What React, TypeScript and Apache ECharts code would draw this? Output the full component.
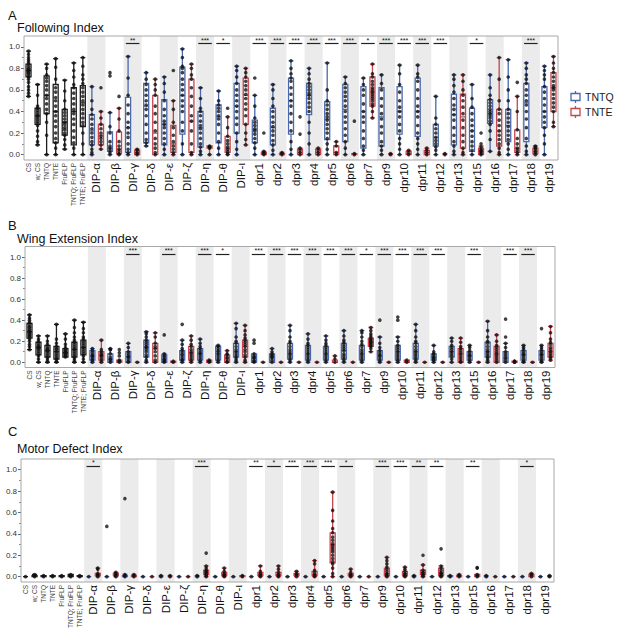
import React, { useEffect, useRef } from 'react';
import * as echarts from 'echarts';

const controls = ['CS', 'w; CS', 'TNTQ', 'TNTE', 'FruFLP', 'TNTQ; FruFLP', 'TNTE; FruFLP'];
const genes = ['DIP-α', 'DIP-β', 'DIP-γ', 'DIP-δ', 'DIP-ε', 'DIP-ζ', 'DIP-η', 'DIP-θ', 'DIP-ι', 'dpr1', 'dpr2', 'dpr3', 'dpr4', 'dpr5', 'dpr6', 'dpr7', 'dpr9', 'dpr10', 'dpr11', 'dpr12', 'dpr13', 'dpr15', 'dpr16', 'dpr17', 'dpr18', 'dpr19'];
const yTicks = [0, 0.2, 0.4, 0.6, 0.8, 1.0];
const yMinorTicks = [0.1, 0.3, 0.5, 0.7, 0.9];
const panelLetters = ['A', 'B', 'C'];
const panelTitles = ['Following Index', 'Wing Extension Index', 'Motor Defect Index'];
const legendNames = ['TNTQ', 'TNTE'];

const sigFollow = ['', '', '**', '', '', '', '***', '*', '', '***', '***', '***', '***', '***', '***', '*', '***', '***', '***', '***', '', '*', '', '', '***', ''];
const sigWing = ['', '', '***', '', '***', '', '***', '*', '', '***', '***', '***', '***', '***', '***', '*', '***', '***', '***', '***', '', '***', '', '***', '***', ''];
const sigMotor = ['*', '', '', '', '', '', '***', '', '', '**', '*', '***', '***', '***', '*', '', '***', '***', '**', '**', '', '**', '', '', '*', ''];

// [min, Q1, median, Q3, max] per slot: 7 controls, then TNTQ/TNTE per gene
const followBoxes = [
  [0.54, 0.72, 0.78, 0.84, 0.96], [0.09, 0.28, 0.36, 0.43, 0.65], [0.0, 0.38, 0.55, 0.73, 0.84], [0.0, 0.11, 0.40, 0.65, 0.89],
  [0.05, 0.18, 0.30, 0.42, 0.69], [0.0, 0.09, 0.40, 0.62, 0.85], [0.0, 0.26, 0.48, 0.64, 0.90],
  [0.0, 0.09, 0.22, 0.37, 0.63], [0.05, 0.09, 0.18, 0.28, 0.40],
  [0.0, 0.03, 0.06, 0.21, 0.39], [0.0, 0.01, 0.05, 0.21, 0.43],
  [0.0, 0.02, 0.25, 0.53, 0.91], [0.0, 0.0, 0.02, 0.04, 0.05],
  [0.08, 0.11, 0.45, 0.66, 0.76], [0.0, 0.0, 0.20, 0.55, 0.70],
  [0.0, 0.09, 0.28, 0.51, 0.72], [0.0, 0.02, 0.10, 0.27, 0.50],
  [0.0, 0.19, 0.55, 0.81, 0.98], [0.0, 0.02, 0.31, 0.70, 0.84],
  [0.0, 0.07, 0.25, 0.40, 0.62], [0.0, 0.06, 0.07, 0.08, 0.08],
  [0.0, 0.11, 0.35, 0.46, 0.59], [0.0, 0.02, 0.06, 0.17, 0.35],
  [0.0, 0.20, 0.45, 0.66, 0.82], [0.09, 0.28, 0.55, 0.71, 0.80],
  [0.0, 0.11, 0.23, 0.32, 0.55], [0.0, 0.0, 0.01, 0.02, 0.03],
  [0.0, 0.09, 0.25, 0.43, 0.65], [0.0, 0.0, 0.01, 0.01, 0.02],
  [0.0, 0.19, 0.50, 0.71, 0.87], [0.0, 0.0, 0.02, 0.05, 0.06],
  [0.0, 0.37, 0.55, 0.66, 0.80], [0.0, 0.0, 0.02, 0.05, 0.06],
  [0.0, 0.14, 0.33, 0.49, 0.85], [0.0, 0.0, 0.02, 0.08, 0.12],
  [0.0, 0.12, 0.42, 0.65, 0.72], [0.0, 0.0, 0.0, 0.01, 0.01],
  [0.0, 0.06, 0.40, 0.63, 0.71], [0.34, 0.45, 0.58, 0.72, 0.84],
  [0.0, 0.08, 0.35, 0.62, 0.74], [0.0, 0.0, 0.0, 0.0, 0.01],
  [0.0, 0.19, 0.40, 0.63, 0.83], [0.0, 0.0, 0.01, 0.03, 0.04],
  [0.0, 0.17, 0.40, 0.71, 0.83], [0.0, 0.0, 0.02, 0.04, 0.06],
  [0.0, 0.08, 0.16, 0.28, 0.54], [0.0, 0.0, 0.0, 0.0, 0.01],
  [0.0, 0.09, 0.37, 0.56, 0.74], [0.0, 0.06, 0.35, 0.56, 0.74],
  [0.0, 0.03, 0.22, 0.43, 0.65], [0.0, 0.0, 0.03, 0.06, 0.08],
  [0.03, 0.29, 0.38, 0.51, 0.74], [0.0, 0.08, 0.22, 0.42, 0.90],
  [0.0, 0.12, 0.27, 0.42, 0.88], [0.0, 0.02, 0.06, 0.23, 0.54],
  [0.0, 0.12, 0.48, 0.66, 0.85], [0.0, 0.01, 0.03, 0.06, 0.08],
  [0.0, 0.25, 0.40, 0.63, 0.82], [0.26, 0.40, 0.62, 0.76, 0.91],
];

const followPoints = [
  [0.96, 0.93, 0.9, 0.88, 0.86, 0.84, 0.82, 0.8, 0.79, 0.78, 0.77, 0.76, 0.75, 0.73, 0.72, 0.7, 0.67, 0.63, 0.6, 0.57, 0.54],
  [0.65, 0.55, 0.45, 0.43, 0.41, 0.39, 0.37, 0.36, 0.35, 0.33, 0.31, 0.29, 0.27, 0.22, 0.17, 0.12, 0.09],
  [0.84, 0.8, 0.74, 0.71, 0.68, 0.64, 0.6, 0.55, 0.52, 0.47, 0.42, 0.38, 0.3, 0.18, 0.0],
  [0.89, 0.81, 0.7, 0.62, 0.58, 0.53, 0.5, 0.45, 0.4, 0.36, 0.31, 0.26, 0.2, 0.15, 0.11, 0.06, 0.0],
  [0.69, 0.59, 0.5, 0.42, 0.39, 0.36, 0.33, 0.3, 0.28, 0.25, 0.23, 0.2, 0.18, 0.14, 0.09, 0.05],
  [0.85, 0.78, 0.72, 0.65, 0.62, 0.57, 0.52, 0.47, 0.42, 0.38, 0.33, 0.28, 0.22, 0.16, 0.11, 0.06, 0.0],
  [0.9, 0.82, 0.74, 0.7, 0.66, 0.62, 0.58, 0.54, 0.5, 0.46, 0.42, 0.38, 0.34, 0.3, 0.27, 0.2, 0.1, 0.0],
  [0.63, 0.5, 0.42, 0.37, 0.33, 0.28, 0.24, 0.2, 0.16, 0.12, 0.09, 0.05, 0.02, 0.0],
  [0.62, 0.4, 0.34, 0.28, 0.24, 0.2, 0.17, 0.15, 0.12, 0.09, 0.05],
  [0.76, 0.73, 0.39, 0.26, 0.2, 0.12, 0.08, 0.06, 0.04, 0.02, 0.0],
  [0.54, 0.43, 0.33, 0.22, 0.12, 0.08, 0.05, 0.03, 0.01, 0.0],
  [0.91, 0.71, 0.55, 0.46, 0.38, 0.3, 0.25, 0.2, 0.16, 0.1, 0.05, 0.02, 0.0],
  [0.05, 0.04, 0.02, 0.01, 0.0],
  [0.76, 0.7, 0.65, 0.6, 0.55, 0.5, 0.46, 0.42, 0.36, 0.28, 0.2, 0.14, 0.11, 0.08],
  [0.7, 0.65, 0.6, 0.55, 0.45, 0.38, 0.3, 0.22, 0.15, 0.1, 0.06, 0.02, 0.0],
  [0.72, 0.66, 0.58, 0.5, 0.42, 0.36, 0.31, 0.28, 0.25, 0.2, 0.15, 0.1, 0.05, 0.0],
  [0.78, 0.5, 0.42, 0.3, 0.25, 0.18, 0.12, 0.08, 0.05, 0.02, 0.0],
  [0.98, 0.9, 0.82, 0.8, 0.76, 0.7, 0.65, 0.6, 0.55, 0.5, 0.45, 0.4, 0.3, 0.22, 0.1, 0.0],
  [0.84, 0.8, 0.74, 0.7, 0.62, 0.54, 0.45, 0.36, 0.31, 0.22, 0.1, 0.02, 0.0],
  [0.62, 0.52, 0.43, 0.4, 0.36, 0.31, 0.27, 0.24, 0.2, 0.15, 0.1, 0.07, 0.03, 0.0],
  [0.08, 0.07, 0.07, 0.06, 0.0],
  [0.59, 0.5, 0.46, 0.43, 0.4, 0.36, 0.33, 0.28, 0.2, 0.12, 0.06, 0.0],
  [0.43, 0.35, 0.25, 0.17, 0.13, 0.1, 0.07, 0.05, 0.03, 0.01, 0.0],
  [0.82, 0.78, 0.72, 0.66, 0.6, 0.55, 0.5, 0.45, 0.4, 0.34, 0.28, 0.2, 0.12, 0.05, 0.0],
  [0.8, 0.76, 0.72, 0.68, 0.64, 0.6, 0.56, 0.52, 0.47, 0.42, 0.36, 0.28, 0.2, 0.14, 0.09],
  [0.71, 0.55, 0.45, 0.34, 0.3, 0.27, 0.24, 0.22, 0.19, 0.15, 0.11, 0.06, 0.0],
  [0.2, 0.03, 0.02, 0.01, 0.0],
  [0.65, 0.6, 0.52, 0.45, 0.4, 0.35, 0.3, 0.26, 0.22, 0.18, 0.13, 0.09, 0.04, 0.0],
  [0.02, 0.01, 0.0],
  [0.87, 0.8, 0.75, 0.71, 0.68, 0.62, 0.56, 0.5, 0.45, 0.38, 0.3, 0.22, 0.12, 0.05, 0.0],
  [0.35, 0.19, 0.06, 0.04, 0.02, 0.0],
  [0.8, 0.75, 0.7, 0.66, 0.63, 0.6, 0.57, 0.55, 0.52, 0.48, 0.44, 0.4, 0.3, 0.2, 0.1, 0.0],
  [0.06, 0.04, 0.02, 0.0],
  [0.85, 0.6, 0.5, 0.46, 0.42, 0.38, 0.35, 0.32, 0.28, 0.24, 0.2, 0.15, 0.1, 0.05, 0.0],
  [0.12, 0.08, 0.02, 0.0],
  [0.72, 0.66, 0.62, 0.58, 0.54, 0.5, 0.45, 0.4, 0.35, 0.3, 0.24, 0.18, 0.12, 0.06, 0.0],
  [0.31, 0.01, 0.0],
  [0.71, 0.65, 0.6, 0.55, 0.47, 0.4, 0.35, 0.3, 0.22, 0.15, 0.08, 0.04, 0.0],
  [0.84, 0.75, 0.72, 0.68, 0.65, 0.62, 0.6, 0.58, 0.56, 0.54, 0.52, 0.5, 0.47, 0.45, 0.4, 0.34],
  [0.74, 0.66, 0.6, 0.52, 0.45, 0.38, 0.33, 0.26, 0.2, 0.12, 0.08, 0.04, 0.0],
  [0.01, 0.0],
  [0.83, 0.75, 0.65, 0.58, 0.5, 0.44, 0.4, 0.35, 0.28, 0.22, 0.15, 0.1, 0.05, 0.0],
  [0.04, 0.02, 0.0],
  [0.83, 0.75, 0.72, 0.68, 0.6, 0.52, 0.45, 0.4, 0.35, 0.27, 0.2, 0.15, 0.1, 0.05, 0.0],
  [0.06, 0.04, 0.02, 0.0],
  [0.54, 0.34, 0.28, 0.24, 0.2, 0.16, 0.13, 0.1, 0.07, 0.04, 0.0],
  [0.01, 0.0],
  [0.74, 0.7, 0.64, 0.58, 0.52, 0.46, 0.42, 0.37, 0.32, 0.25, 0.18, 0.12, 0.08, 0.03, 0.0],
  [0.74, 0.68, 0.6, 0.55, 0.5, 0.44, 0.38, 0.32, 0.25, 0.18, 0.12, 0.06, 0.02, 0.0],
  [0.65, 0.52, 0.44, 0.38, 0.32, 0.27, 0.22, 0.17, 0.12, 0.08, 0.04, 0.0],
  [0.2, 0.1, 0.07, 0.05, 0.04, 0.03, 0.02, 0.01, 0.0],
  [0.74, 0.62, 0.55, 0.51, 0.48, 0.45, 0.42, 0.4, 0.38, 0.36, 0.34, 0.31, 0.28, 0.22, 0.14, 0.03],
  [0.9, 0.7, 0.5, 0.42, 0.38, 0.32, 0.27, 0.22, 0.18, 0.14, 0.1, 0.06, 0.02, 0.0],
  [0.88, 0.72, 0.6, 0.5, 0.42, 0.38, 0.34, 0.3, 0.26, 0.22, 0.18, 0.14, 0.1, 0.05, 0.0],
  [0.67, 0.54, 0.4, 0.23, 0.15, 0.1, 0.06, 0.04, 0.02, 0.0],
  [0.85, 0.8, 0.74, 0.7, 0.66, 0.6, 0.55, 0.5, 0.46, 0.4, 0.33, 0.25, 0.15, 0.08, 0.03, 0.0],
  [0.08, 0.07, 0.06, 0.05, 0.03, 0.02, 0.0],
  [0.82, 0.78, 0.74, 0.7, 0.63, 0.58, 0.52, 0.46, 0.4, 0.35, 0.3, 0.25, 0.18, 0.1, 0.0],
  [0.91, 0.85, 0.8, 0.76, 0.72, 0.68, 0.64, 0.62, 0.6, 0.56, 0.52, 0.48, 0.44, 0.4, 0.3, 0.26],
];

const wingBoxes = [
  [0.12, 0.23, 0.29, 0.37, 0.45], [0.0, 0.07, 0.14, 0.19, 0.25], [0.0, 0.05, 0.11, 0.16, 0.25], [0.0, 0.03, 0.10, 0.15, 0.36],
  [0.05, 0.05, 0.09, 0.13, 0.27], [0.0, 0.05, 0.12, 0.19, 0.40], [0.0, 0.07, 0.14, 0.21, 0.38],
  [0.0, 0.02, 0.06, 0.11, 0.13], [0.0, 0.02, 0.06, 0.10, 0.21],
  [0.0, 0.0, 0.03, 0.08, 0.13], [0.0, 0.0, 0.01, 0.02, 0.02],
  [0.0, 0.0, 0.05, 0.10, 0.18], [0.0, 0.0, 0.0, 0.0, 0.0],
  [0.0, 0.05, 0.14, 0.21, 0.29], [0.0, 0.0, 0.13, 0.18, 0.28],
  [0.0, 0.0, 0.03, 0.07, 0.08], [0.0, 0.0, 0.0, 0.01, 0.01],
  [0.0, 0.02, 0.07, 0.11, 0.21], [0.0, 0.02, 0.09, 0.15, 0.25],
  [0.0, 0.02, 0.08, 0.13, 0.22], [0.0, 0.0, 0.01, 0.02, 0.02],
  [0.0, 0.02, 0.08, 0.15, 0.16], [0.0, 0.0, 0.04, 0.07, 0.11],
  [0.0, 0.05, 0.10, 0.18, 0.37], [0.0, 0.05, 0.15, 0.21, 0.35],
  [0.0, 0.0, 0.04, 0.08, 0.08], [0.0, 0.0, 0.0, 0.0, 0.0],
  [0.0, 0.0, 0.05, 0.08, 0.13], [0.0, 0.0, 0.0, 0.0, 0.0],
  [0.0, 0.03, 0.08, 0.18, 0.35], [0.0, 0.0, 0.0, 0.0, 0.0],
  [0.0, 0.02, 0.08, 0.16, 0.27], [0.0, 0.0, 0.0, 0.0, 0.0],
  [0.0, 0.02, 0.08, 0.15, 0.25], [0.0, 0.0, 0.0, 0.02, 0.06],
  [0.0, 0.03, 0.11, 0.18, 0.30], [0.0, 0.0, 0.0, 0.0, 0.0],
  [0.0, 0.02, 0.08, 0.16, 0.30], [0.10, 0.15, 0.19, 0.23, 0.33],
  [0.0, 0.02, 0.06, 0.11, 0.24], [0.0, 0.0, 0.0, 0.0, 0.0],
  [0.0, 0.02, 0.10, 0.16, 0.24], [0.0, 0.0, 0.01, 0.02, 0.02],
  [0.0, 0.03, 0.10, 0.18, 0.36], [0.0, 0.0, 0.0, 0.0, 0.0],
  [0.0, 0.02, 0.05, 0.08, 0.16], [0.0, 0.0, 0.0, 0.0, 0.0],
  [0.0, 0.05, 0.10, 0.15, 0.23], [0.0, 0.0, 0.08, 0.13, 0.23],
  [0.0, 0.02, 0.06, 0.10, 0.16], [0.0, 0.0, 0.0, 0.0, 0.0],
  [0.0, 0.05, 0.10, 0.19, 0.39], [0.0, 0.0, 0.08, 0.15, 0.26],
  [0.0, 0.0, 0.04, 0.10, 0.18], [0.0, 0.0, 0.0, 0.01, 0.01],
  [0.0, 0.02, 0.07, 0.11, 0.16], [0.0, 0.0, 0.0, 0.0, 0.0],
  [0.0, 0.02, 0.07, 0.11, 0.16], [0.02, 0.05, 0.10, 0.18, 0.34],
];

const wingPoints = [
  [0.45, 0.42, 0.4, 0.38, 0.36, 0.34, 0.33, 0.31, 0.3, 0.29, 0.28, 0.27, 0.26, 0.25, 0.24, 0.22, 0.2, 0.17, 0.15, 0.12],
  [0.25, 0.22, 0.2, 0.18, 0.16, 0.15, 0.14, 0.13, 0.12, 0.1, 0.08, 0.06, 0.03, 0.0],
  [0.25, 0.2, 0.17, 0.15, 0.13, 0.12, 0.11, 0.1, 0.08, 0.06, 0.04, 0.02, 0.0],
  [0.36, 0.22, 0.18, 0.15, 0.13, 0.12, 0.1, 0.08, 0.06, 0.04, 0.03, 0.01, 0.0],
  [0.27, 0.22, 0.17, 0.14, 0.12, 0.11, 0.1, 0.09, 0.08, 0.07, 0.06, 0.05],
  [0.4, 0.33, 0.28, 0.24, 0.21, 0.19, 0.17, 0.15, 0.13, 0.12, 0.1, 0.08, 0.06, 0.04, 0.02, 0.0],
  [0.38, 0.32, 0.28, 0.24, 0.22, 0.2, 0.18, 0.16, 0.14, 0.12, 0.1, 0.08, 0.06, 0.03, 0.0],
  [0.13, 0.11, 0.09, 0.07, 0.06, 0.05, 0.03, 0.02, 0.0],
  [0.21, 0.12, 0.1, 0.08, 0.07, 0.06, 0.04, 0.02, 0.0],
  [0.13, 0.12, 0.12, 0.08, 0.05, 0.03, 0.02, 0.0],
  [0.12, 0.09, 0.06, 0.02, 0.01, 0.0],
  [0.18, 0.14, 0.1, 0.08, 0.06, 0.05, 0.03, 0.01, 0.0],
  [0.0],
  [0.29, 0.27, 0.24, 0.21, 0.19, 0.17, 0.15, 0.14, 0.12, 0.1, 0.07, 0.05, 0.02, 0.0],
  [0.28, 0.24, 0.18, 0.15, 0.13, 0.1, 0.06, 0.02, 0.0],
  [0.26, 0.08, 0.06, 0.05, 0.03, 0.02, 0.01, 0.0],
  [0.01, 0.0],
  [0.36, 0.21, 0.17, 0.13, 0.11, 0.09, 0.07, 0.05, 0.03, 0.02, 0.0],
  [0.25, 0.21, 0.17, 0.15, 0.12, 0.1, 0.08, 0.06, 0.04, 0.02, 0.0],
  [0.22, 0.18, 0.15, 0.13, 0.11, 0.09, 0.08, 0.06, 0.04, 0.02, 0.0],
  [0.02, 0.01, 0.0],
  [0.16, 0.15, 0.13, 0.11, 0.1, 0.08, 0.06, 0.04, 0.02, 0.0],
  [0.11, 0.08, 0.07, 0.05, 0.03, 0.01, 0.0],
  [0.37, 0.32, 0.24, 0.2, 0.18, 0.15, 0.12, 0.1, 0.08, 0.06, 0.04, 0.02, 0.0],
  [0.35, 0.3, 0.26, 0.23, 0.21, 0.19, 0.17, 0.15, 0.12, 0.1, 0.07, 0.05, 0.02, 0.0],
  [0.21, 0.18, 0.08, 0.06, 0.05, 0.04, 0.02, 0.01, 0.0],
  [0.0],
  [0.13, 0.1, 0.08, 0.07, 0.06, 0.05, 0.04, 0.02, 0.0],
  [0.0],
  [0.35, 0.3, 0.24, 0.2, 0.18, 0.15, 0.12, 0.1, 0.08, 0.06, 0.04, 0.02, 0.0],
  [0.0],
  [0.27, 0.22, 0.18, 0.16, 0.14, 0.12, 0.1, 0.08, 0.06, 0.04, 0.02, 0.0],
  [0.0],
  [0.25, 0.21, 0.18, 0.16, 0.14, 0.12, 0.1, 0.08, 0.06, 0.04, 0.02, 0.0],
  [0.06, 0.03, 0.0],
  [0.3, 0.25, 0.21, 0.19, 0.17, 0.15, 0.13, 0.11, 0.08, 0.06, 0.04, 0.02, 0.0],
  [0.0],
  [0.3, 0.28, 0.24, 0.2, 0.17, 0.15, 0.12, 0.1, 0.08, 0.06, 0.04, 0.02, 0.0],
  [0.33, 0.3, 0.27, 0.25, 0.23, 0.22, 0.21, 0.2, 0.19, 0.18, 0.17, 0.16, 0.15, 0.13, 0.1],
  [0.4, 0.24, 0.18, 0.14, 0.11, 0.09, 0.07, 0.06, 0.04, 0.02, 0.0],
  [0.0],
  [0.43, 0.4, 0.24, 0.2, 0.16, 0.14, 0.12, 0.1, 0.08, 0.06, 0.04, 0.02, 0.0],
  [0.02, 0.0],
  [0.36, 0.3, 0.24, 0.2, 0.18, 0.15, 0.12, 0.1, 0.08, 0.06, 0.04, 0.02, 0.0],
  [0.0],
  [0.16, 0.1, 0.08, 0.07, 0.05, 0.04, 0.03, 0.02, 0.0],
  [0.0],
  [0.23, 0.2, 0.16, 0.14, 0.12, 0.1, 0.08, 0.06, 0.03, 0.0],
  [0.23, 0.19, 0.15, 0.13, 0.11, 0.09, 0.07, 0.05, 0.03, 0.01, 0.0],
  [0.16, 0.14, 0.11, 0.09, 0.07, 0.06, 0.04, 0.02, 0.0],
  [0.0],
  [0.39, 0.3, 0.24, 0.2, 0.18, 0.15, 0.12, 0.1, 0.08, 0.06, 0.04, 0.02, 0.0],
  [0.26, 0.2, 0.16, 0.14, 0.12, 0.1, 0.08, 0.06, 0.04, 0.02, 0.0],
  [0.41, 0.24, 0.18, 0.14, 0.1, 0.08, 0.06, 0.04, 0.02, 0.0],
  [0.01, 0.01, 0.0, 0.0],
  [0.16, 0.14, 0.12, 0.1, 0.08, 0.07, 0.05, 0.03, 0.01, 0.0],
  [0.0],
  [0.32, 0.16, 0.14, 0.12, 0.1, 0.08, 0.07, 0.05, 0.03, 0.01, 0.0],
  [0.34, 0.28, 0.22, 0.19, 0.17, 0.14, 0.12, 0.1, 0.08, 0.06, 0.04, 0.02],
];

const motorBoxes = [
  [0, 0, 0, 0, 0], [0, 0, 0.01, 0.01, 0.02], [0, 0, 0, 0.01, 0.01], [0, 0, 0.01, 0.01, 0.01],
  [0, 0, 0, 0.01, 0.01], [0, 0, 0.01, 0.02, 0.02], [0, 0, 0, 0.01, 0.01],
  [0, 0, 0, 0, 0], [0, 0.01, 0.02, 0.03, 0.08],
  [0, 0, 0, 0, 0], [0, 0.01, 0.02, 0.03, 0.04],
  [0, 0, 0.01, 0.01, 0.02], [0, 0, 0.01, 0.01, 0.02],
  [0, 0, 0, 0, 0], [0, 0, 0, 0, 0],
  [0, 0, 0, 0, 0.01], [0, 0, 0, 0, 0.01],
  [0, 0, 0, 0, 0], [0, 0, 0, 0, 0],
  [0, 0, 0, 0, 0.01], [0, 0.02, 0.04, 0.06, 0.1],
  [0, 0, 0, 0, 0], [0, 0.01, 0.02, 0.04, 0.08],
  [0, 0, 0, 0, 0], [0, 0, 0, 0.01, 0.01],
  [0, 0, 0, 0, 0], [0, 0.01, 0.02, 0.04, 0.1],
  [0, 0, 0, 0, 0], [0, 0.01, 0.02, 0.04, 0.1],
  [0, 0, 0, 0, 0], [0, 0.01, 0.02, 0.03, 0.05],
  [0, 0, 0, 0, 0], [0, 0.01, 0.02, 0.05, 0.15],
  [0, 0, 0, 0, 0], [0, 0.13, 0.3, 0.41, 0.79],
  [0, 0, 0, 0, 0], [0, 0.01, 0.02, 0.03, 0.07],
  [0, 0, 0, 0, 0], [0, 0, 0, 0, 0],
  [0, 0, 0, 0, 0], [0, 0.01, 0.03, 0.08, 0.18],
  [0, 0, 0, 0, 0], [0, 0.01, 0.03, 0.05, 0.09],
  [0, 0, 0, 0, 0.01], [0, 0.02, 0.04, 0.06, 0.11],
  [0, 0, 0, 0, 0], [0, 0.01, 0.03, 0.08, 0.1],
  [0, 0, 0.01, 0.01, 0.01], [0, 0, 0.01, 0.01, 0.02],
  [0, 0, 0, 0, 0], [0, 0, 0.01, 0.02, 0.02],
  [0, 0, 0, 0, 0.01], [0, 0, 0, 0, 0],
  [0, 0, 0, 0, 0], [0, 0, 0, 0, 0],
  [0, 0, 0, 0, 0], [0, 0, 0.01, 0.02, 0.03],
  [0, 0, 0, 0, 0], [0, 0, 0, 0, 0.01],
];

const motorPoints = [
  [0.0], [0.02, 0.01, 0.0], [0.01, 0.0], [0.01, 0.0], [0.01, 0.0], [0.02, 0.01, 0.0], [0.01, 0.0],
  [0.0], [0.08, 0.07, 0.03, 0.02, 0.01, 0.0],
  [0.47, 0.0], [0.04, 0.03, 0.02, 0.01, 0.0],
  [0.73, 0.02, 0.01, 0.0], [0.02, 0.01, 0.0],
  [0.0], [0.0],
  [0.01, 0.0], [0.01, 0.0],
  [0.0], [0.0],
  [0.01, 0.0], [0.22, 0.1, 0.08, 0.06, 0.05, 0.04, 0.03, 0.02, 0.01, 0.0],
  [0.0], [0.08, 0.05, 0.03, 0.02, 0.01, 0.0],
  [0.0], [0.01, 0.0],
  [0.0], [0.1, 0.05, 0.03, 0.02, 0.01, 0.0],
  [0.0], [0.1, 0.07, 0.04, 0.02, 0.01, 0.0],
  [0.0], [0.05, 0.03, 0.02, 0.0],
  [0.0], [0.15, 0.12, 0.06, 0.04, 0.02, 0.01, 0.0],
  [0.0], [0.79, 0.62, 0.52, 0.45, 0.41, 0.37, 0.34, 0.31, 0.29, 0.27, 0.25, 0.23, 0.2, 0.17, 0.14, 0.12, 0.08, 0.03, 0.0],
  [0.0], [0.07, 0.04, 0.02, 0.01, 0.0],
  [0.0], [0.0],
  [0.0], [0.18, 0.15, 0.12, 0.09, 0.07, 0.05, 0.03, 0.02, 0.01, 0.0],
  [0.0], [0.09, 0.07, 0.05, 0.03, 0.02, 0.01, 0.0],
  [0.01, 0.0], [0.2, 0.11, 0.06, 0.04, 0.03, 0.02, 0.01, 0.0],
  [0.0], [0.26, 0.1, 0.08, 0.06, 0.04, 0.03, 0.02, 0.01, 0.0],
  [0.01, 0.0], [0.02, 0.01, 0.0],
  [0.0], [0.085, 0.08, 0.02, 0.01, 0.0],
  [0.01, 0.0], [0.0],
  [0.0], [0.0],
  [0.0], [0.03, 0.02, 0.0],
  [0.0], [0.01, 0.0],
];

const BLUE = '#4a68ad';
const RED = '#c8434c';
const CTRL = '#1e1e1e';
const FONT = '"Liberation Sans", Arial, Helvetica, sans-serif';

const grids = [
  { left: 24, top: 36, width: 534, height: 124 },
  { left: 25, top: 246.5, width: 530, height: 121 },
  { left: 21, top: 459, width: 533, height: 123 },
];

const panels = [
  { boxes: followBoxes, points: followPoints, sig: sigFollow },
  { boxes: wingBoxes, points: wingPoints, sig: sigWing },
  { boxes: motorBoxes, points: motorPoints, sig: sigMotor },
];

const nSlots = controls.length + genes.length * 2;
const slotColor = (i: number) => (i < controls.length ? CTRL : (i - controls.length) % 2 === 0 ? BLUE : RED);

const labelPositions: number[] = [];
const labelText: Record<string, string> = {};
controls.forEach((c, i) => {
  const v = i + 0.5;
  labelPositions.push(v);
  labelText[v.toFixed(1)] = '{c|' + c + '}';
});
genes.forEach((g, k) => {
  const v = controls.length + 2 * k + 1;
  labelPositions.push(v);
  labelText[v.toFixed(1)] = '{g|' + g + '}';
});

function buildOption() {
  const xAxis: any[] = [];
  const yAxis: any[] = [];
  const series: any[] = [];
  const graphic: any[] = [];
  const title: any[] = [];
  const slotNames = Array.from({ length: nSlots }, (_, i) => 's' + i);

  panels.forEach((p, pi) => {
    xAxis.push({
      gridIndex: pi, type: 'value', min: 0, max: nSlots,
      axisLine: { show: false }, axisTick: { show: false }, splitLine: { show: false },
      axisLabel: {
        customValues: labelPositions,
        formatter: (v: number) => labelText[v.toFixed(1)] || '',
        rotate: 90, margin: 3,
        rich: {
          g: { fontSize: 11.5, color: '#111', fontFamily: FONT },
          c: { fontSize: 6.5, color: '#444', fontFamily: FONT },
        },
      },
    });
    xAxis.push({ gridIndex: pi, type: 'category', data: slotNames, show: false, boundaryGap: true });
    const yBase = {
      gridIndex: pi, type: 'value', min: -0.05, max: 1.1, position: 'left',
      axisLine: { show: false }, splitLine: { show: false },
    };
    yAxis.push({
      ...yBase,
      axisTick: { show: true, customValues: yTicks, length: 3, lineStyle: { color: '#666' } },
      axisLabel: { customValues: yTicks, formatter: (v: number) => v.toFixed(1), fontSize: 8, color: '#333', margin: 4, fontFamily: FONT },
    });
    yAxis.push({
      ...yBase,
      axisTick: { show: true, customValues: yMinorTicks, length: 2, lineStyle: { color: '#888' } },
      axisLabel: { show: false },
    });

    const xi = pi * 2;
    const yi = pi * 2;
    series.push({
      type: 'line', xAxisIndex: xi, yAxisIndex: yi, data: [], silent: true, z: 1,
      markArea: {
        silent: true,
        itemStyle: { color: '#ebebeb' },
        data: genes
          .map((_, k) => k)
          .filter((k) => k % 2 === 0)
          .map((k) => [{ xAxis: controls.length + 2 * k }, { xAxis: controls.length + 2 * k + 2 }]),
      },
    });
    series.push({
      type: 'boxplot', xAxisIndex: xi + 1, yAxisIndex: yi, boxWidth: [5, 5], z: 3, silent: true,
      data: p.boxes.map((b, i) => ({
        value: b,
        itemStyle: { borderColor: slotColor(i), color: '#ffffff', borderWidth: 1.3 },
      })),
    });
    series.push({
      type: 'scatter', xAxisIndex: xi + 1, yAxisIndex: yi, symbolSize: 3.6, z: 4, silent: true,
      itemStyle: { color: '#111' },
      data: p.points.flatMap((arr, i) => arr.map((v) => [i, v])),
    });
    series.push({
      type: 'line', xAxisIndex: xi, yAxisIndex: yi, data: [], silent: true, z: 5,
      markLine: {
        silent: true, symbol: ['none', 'none'],
        lineStyle: { color: '#222', width: 1.2, type: 'solid' },
        label: { show: true, position: 'middle', formatter: '{b}', fontSize: 7, color: '#111', distance: 0, fontFamily: FONT },
        data: p.sig
          .map((s, k) => ({ s, k }))
          .filter((o) => o.s !== '')
          .map((o) => [
            { name: o.s, coord: [controls.length + 2 * o.k + 0.25, 1.03] },
            { coord: [controls.length + 2 * o.k + 1.75, 1.03] },
          ]),
      },
    });

    const g = grids[pi];
    graphic.push({
      type: 'rect', silent: true, z: 100,
      shape: { x: g.left, y: g.top, width: g.width, height: g.height },
      style: { fill: 'none', stroke: '#a8a8a8', lineWidth: 1 },
    });
  });

  const letterTops = [4, 214, 420];
  const titleTops = [16, 227, 437];
  panelLetters.forEach((l, i) => {
    title.push({ text: l, left: 3, top: letterTops[i], textStyle: { fontSize: 13, fontWeight: 'normal', color: '#111', fontFamily: FONT } });
    title.push({ text: panelTitles[i], left: 12, top: titleTops[i], textStyle: { fontSize: 12.5, fontWeight: 'normal', color: '#111', fontFamily: FONT } });
  });

  // legend
  const legendColors = [BLUE, RED];
  legendNames.forEach((n, i) => {
    const cy = 97 + i * 15;
    graphic.push({ type: 'line', silent: true, shape: { x1: 575.5, y1: cy - 6, x2: 575.5, y2: cy + 6 }, style: { stroke: legendColors[i], lineWidth: 1.3 } });
    graphic.push({ type: 'rect', silent: true, shape: { x: 571, y: cy - 3.5, width: 9, height: 7 }, style: { fill: '#fff', stroke: legendColors[i], lineWidth: 1.3 } });
    graphic.push({ type: 'text', silent: true, x: 585, y: cy, style: { text: n, fontSize: 10.5, fill: '#222', fontFamily: FONT, textVerticalAlign: 'middle', verticalAlign: 'middle' } });
  });

  return {
    animation: false,
    backgroundColor: '#ffffff',
    textStyle: { fontFamily: FONT },
    title,
    grid: grids.map((g) => ({ ...g, containLabel: false })),
    xAxis,
    yAxis,
    series,
    graphic,
  };
}

export default function App() {
  const ref = useRef<HTMLDivElement>(null);
  useEffect(() => {
    if (!ref.current) return;
    const chart = echarts.init(ref.current, undefined, { renderer: 'svg' });
    chart.setOption(buildOption() as any);
    return () => chart.dispose();
  }, []);
  return <div ref={ref} style={{ position: 'fixed', left: 0, top: 0, width: 617, height: 635, background: '#fff' }} />;
}
